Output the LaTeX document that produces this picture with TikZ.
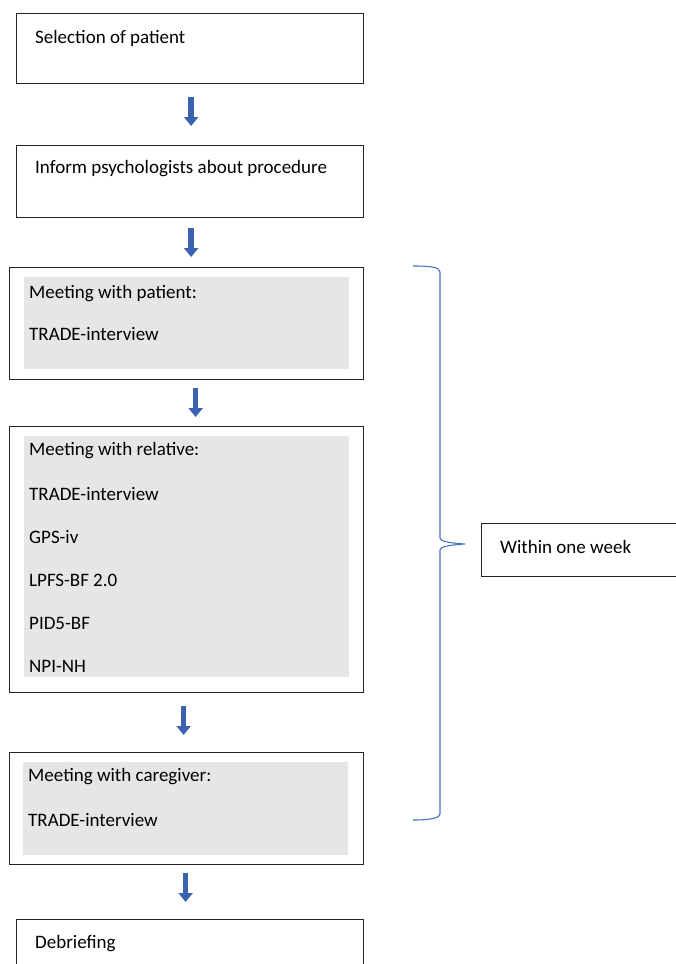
\documentclass[tikz,border=0pt]{standalone}
\usepackage{fontspec}
\setmainfont{Carlito}
\usepackage{tikz}
\usetikzlibrary{arrows.meta}

\definecolor{arrowblue}{HTML}{3A62B0}
\definecolor{bracecol}{HTML}{4472C4}
\definecolor{panelgray}{HTML}{E6E6E6}

\tikzset{
	stepbox/.style={rectangle, draw=black!85, line width=1.3pt, anchor=north west, inner sep=0pt},
	panel/.style={rectangle, fill=panelgray, anchor=north west, inner sep=0pt},
	txt/.style={anchor=west, inner sep=0pt, font=\fontsize{19}{22}\selectfont},
	flowarrow/.style={-{Triangle[width=14pt,length=9pt]}, line width=5.5pt, draw=arrowblue},
}

\begin{document}
\begin{tikzpicture}[x=1pt,y=-1pt]
		\useasboundingbox (0,0) rectangle (676,964);
		\clip (0,0) rectangle (676,964);
		
		\node (selection) [stepbox, minimum width=347pt, minimum height=70pt] at (16,13) {};
		\node (selectiontxt) [txt] at (35,38) {Selection of patient};
		
		\node (inform) [stepbox, minimum width=347pt, minimum height=72pt] at (16,145) {};
		\node (informtxt) [txt] at (35,169) {Inform psychologists about procedure};
		
		\node (patient) [stepbox, minimum width=354pt, minimum height=112pt] at (9,267) {};
		\node (patientbg) [panel, minimum width=325pt, minimum height=92pt] at (24,277) {};
		\node (patienttxt) [txt] at (29,294) {Meeting with patient:};
		\node (patienttrade) [txt] at (29,334) {TRADE-interview};
		
		\node (relative) [stepbox, minimum width=354pt, minimum height=266pt] at (9,426) {};
		\node (relativebg) [panel, minimum width=325pt, minimum height=241pt] at (24,436) {};
		\node (relativetxt) [txt] at (29,451) {Meeting with relative:};
		\node (relativetrade) [txt] at (29,494) {TRADE-interview};
		\node (gps) [txt] at (29,537) {GPS-iv};
		\node (lpfs) [txt] at (29,580) {LPFS-BF 2.0};
		\node (pid) [txt] at (29,623) {PID5-BF};
		\node (npi) [txt] at (29,666) {NPI-NH};
		
		\node (caregiver) [stepbox, minimum width=354pt, minimum height=112pt] at (9,752) {};
		\node (caregiverbg) [panel, minimum width=325pt, minimum height=93pt] at (23,762) {};
		\node (caregivertxt) [txt] at (28,777) {Meeting with caregiver:};
		\node (caregivertrade) [txt] at (28,820) {TRADE-interview};
		
		\node (debrief) [stepbox, minimum width=347pt, minimum height=70pt] at (16,919) {};
		\node (debrieftxt) [txt] at (35,944) {Debriefing};
		
		\node (week) [stepbox, minimum width=210pt, minimum height=53pt] at (481,523) {};
		\node (weektxt) [txt] at (500,547) {Within one week};
		
		% arrows between the steps
		\draw [flowarrow, shorten <=13pt, shorten >=19pt] ([xshift=1pt]selection.south) -- ([xshift=1pt]selection.south |- inform.north);
		\draw [flowarrow, shorten <=10pt, shorten >=10pt] ([xshift=1pt]inform.south) -- ([xshift=1pt]inform.south |- patient.north);
		\draw [flowarrow, shorten <=8pt, shorten >=9pt] ([xshift=9pt]patient.south) -- ([xshift=9pt]patient.south |- relative.north);
		\draw [flowarrow, shorten <=13pt, shorten >=17pt] ([xshift=-3pt]relative.south) -- ([xshift=-3pt]relative.south |- caregiver.north);
		\draw [flowarrow, shorten <=8pt, shorten >=17pt] ([xshift=-1pt]caregiver.south) -- ([xshift=-1pt]caregiver.south |- debrief.north);
		
		% brace
		\draw [bracecol, line width=1.1pt] (413,266) .. controls (430,266) and (440,267) .. (440,272)
			-- (440,538) .. controls (440,541) and (448,543) .. (465,544)
			.. controls (448,545) and (440,547) .. (440,550)
			-- (440,814) .. controls (440,818) and (430,820) .. (413,820);
		
\end{tikzpicture}
\end{document}
